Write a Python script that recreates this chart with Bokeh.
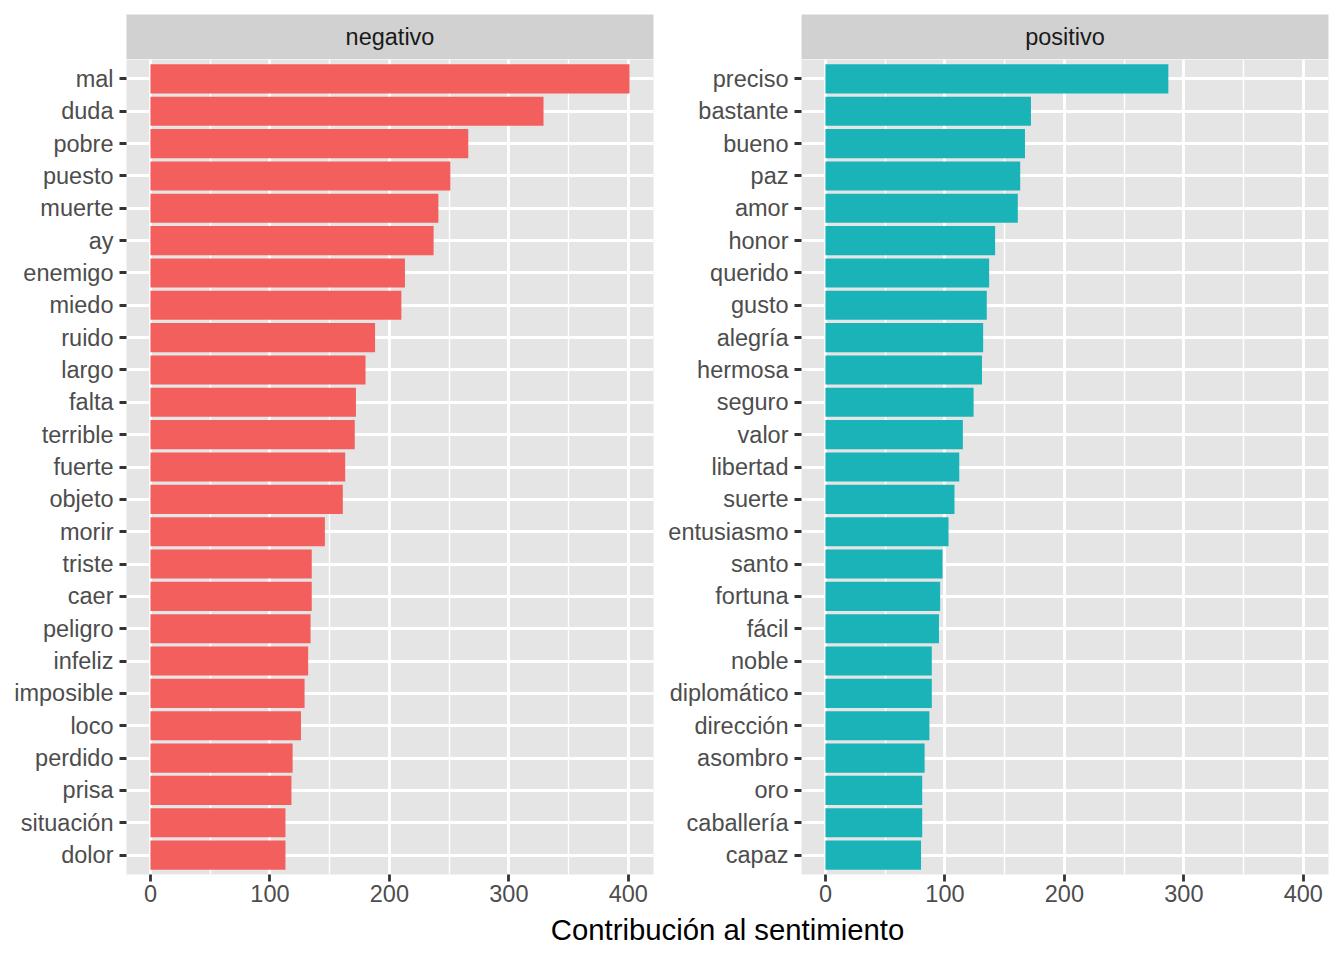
from bokeh.plotting import figure
from bokeh.models import FactorRange, Range1d, FixedTicker, ColumnDataSource
from bokeh.layouts import row, column
from bokeh.embed import file_html
from bokeh.resources import INLINE
from bokeh.core.properties import value

# ---------------- data ----------------
panels = ["negativo", "positivo"]

neg_words = ["mal", "duda", "pobre", "puesto", "muerte", "ay", "enemigo", "miedo",
             "ruido", "largo", "falta", "terrible", "fuerte", "objeto", "morir",
             "triste", "caer", "peligro", "infeliz", "imposible", "loco", "perdido",
             "prisa", "situación", "dolor"]
neg_values = [401, 329, 266, 251, 241, 237, 213, 210, 188, 180, 172, 171, 163, 161,
              146, 135, 135, 134, 132, 129, 126, 119, 118, 113, 113]

pos_words = ["preciso", "bastante", "bueno", "paz", "amor", "honor", "querido", "gusto",
             "alegría", "hermosa", "seguro", "valor", "libertad", "suerte", "entusiasmo",
             "santo", "fortuna", "fácil", "noble", "diplomático", "dirección", "asombro",
             "oro", "caballería", "capaz"]
pos_values = [287, 172, 167, 163, 161, 142, 137, 135, 132, 131, 124, 115, 112, 108, 103,
              98, 96, 95, 89, 89, 87, 83, 81, 81, 80]

x_ticks = [0, 100, 200, 300, 400]
x_minor = [50, 150, 250, 350]
x_label = "Contribución al sentimiento"

# ---------------- style ----------------
FONT = "Liberation Sans"
BAR_COLORS = ["#F35F5C", "#19B3B8"]
PANEL_BG = "#E5E5E5"
STRIP_BG = "#D1D1D1"
FRAME_W = 527
FRAME_H = 815
STRIP_H = 45
LEFT1, RIGHT1 = 126, 4
LEFT2, RIGHT2 = 144, 5
LAB_H = 40

xmax = max(max(neg_values), max(pos_values))
pad = xmax * 0.05
X_START, X_END = -pad, xmax + pad


def make_strip(label, left, right):
    s = figure(frame_width=FRAME_W, frame_height=STRIP_H,
               x_range=Range1d(0, 1), y_range=Range1d(0, 1),
               min_border_left=left, min_border_right=right,
               min_border_top=14, min_border_bottom=0,
               x_axis_location=None, y_axis_location=None,
               toolbar_location=None, output_backend="svg")
    s.background_fill_color = STRIP_BG
    s.border_fill_color = "white"
    s.outline_line_color = None
    s.grid.visible = False
    s.text(x=[0.5], y=[0.5], text=[label], text_align="center",
           text_baseline="middle", text_font=value(FONT),
           text_font_size="23.5px", text_color="#1A1A1A")
    return s


def make_panel(words, values, color, left, right):
    src = ColumnDataSource(dict(word=words, value=values))
    p = figure(frame_width=FRAME_W, frame_height=FRAME_H,
               y_range=FactorRange(factors=words[::-1], range_padding=0.1,
                                   range_padding_units="absolute"),
               x_range=Range1d(X_START, X_END),
               min_border_left=left, min_border_right=right,
               min_border_top=0, min_border_bottom=37,
               toolbar_location=None, output_backend="svg")
    p.hbar(y="word", left=0, right="value", height=0.9, source=src,
           fill_color=color, line_color=None)
    p.background_fill_color = PANEL_BG
    p.border_fill_color = "white"
    p.outline_line_color = None

    p.xaxis.ticker = FixedTicker(ticks=x_ticks, minor_ticks=x_minor)
    p.xgrid.grid_line_color = "white"
    p.xgrid.grid_line_width = 2.8
    p.xgrid.minor_grid_line_color = "white"
    p.xgrid.minor_grid_line_width = 1.4
    p.ygrid.grid_line_color = "white"
    p.ygrid.grid_line_width = 2.8

    for ax in (p.xaxis, p.yaxis):
        ax.axis_line_color = None
        ax.major_tick_line_color = "#333333"
        ax.major_tick_line_width = 2.8
        ax.major_tick_out = 7
        ax.major_tick_in = 0
        ax.minor_tick_line_color = None
        ax.major_label_text_font = FONT
        ax.major_label_text_font_size = "23.5px"
        ax.major_label_text_color = "#4D4D4D"
    p.yaxis.major_label_standoff = 6
    p.xaxis.major_label_standoff = 3
    return p


s1 = make_strip(panels[0], LEFT1, RIGHT1)
s2 = make_strip(panels[1], LEFT2, RIGHT2)
p1 = make_panel(neg_words, neg_values, BAR_COLORS[0], LEFT1, RIGHT1)
p2 = make_panel(pos_words, pos_values, BAR_COLORS[1], LEFT2, RIGHT2)

total_frame = FRAME_W * 2 + RIGHT1 + LEFT2
lab = figure(frame_width=total_frame, frame_height=LAB_H,
             x_range=Range1d(0, 1), y_range=Range1d(0, 1),
             min_border_left=LEFT1, min_border_right=RIGHT2, min_border_top=0, min_border_bottom=0,
             x_axis_location=None, y_axis_location=None,
             toolbar_location=None, output_backend="svg")
lab.outline_line_color = None
lab.grid.visible = False
lab.background_fill_color = "white"
lab.border_fill_color = "white"
lab.text(x=[0.5], y=[1 - 18 / LAB_H], text=[x_label], text_align="center",
         text_baseline="middle", text_font=value(FONT), text_font_size="29.3px",
         text_color="black")

layout = column(row(s1, s2, spacing=0), row(p1, p2, spacing=0), lab, spacing=0)

open("out.html", "w").write(file_html(layout, INLINE))
